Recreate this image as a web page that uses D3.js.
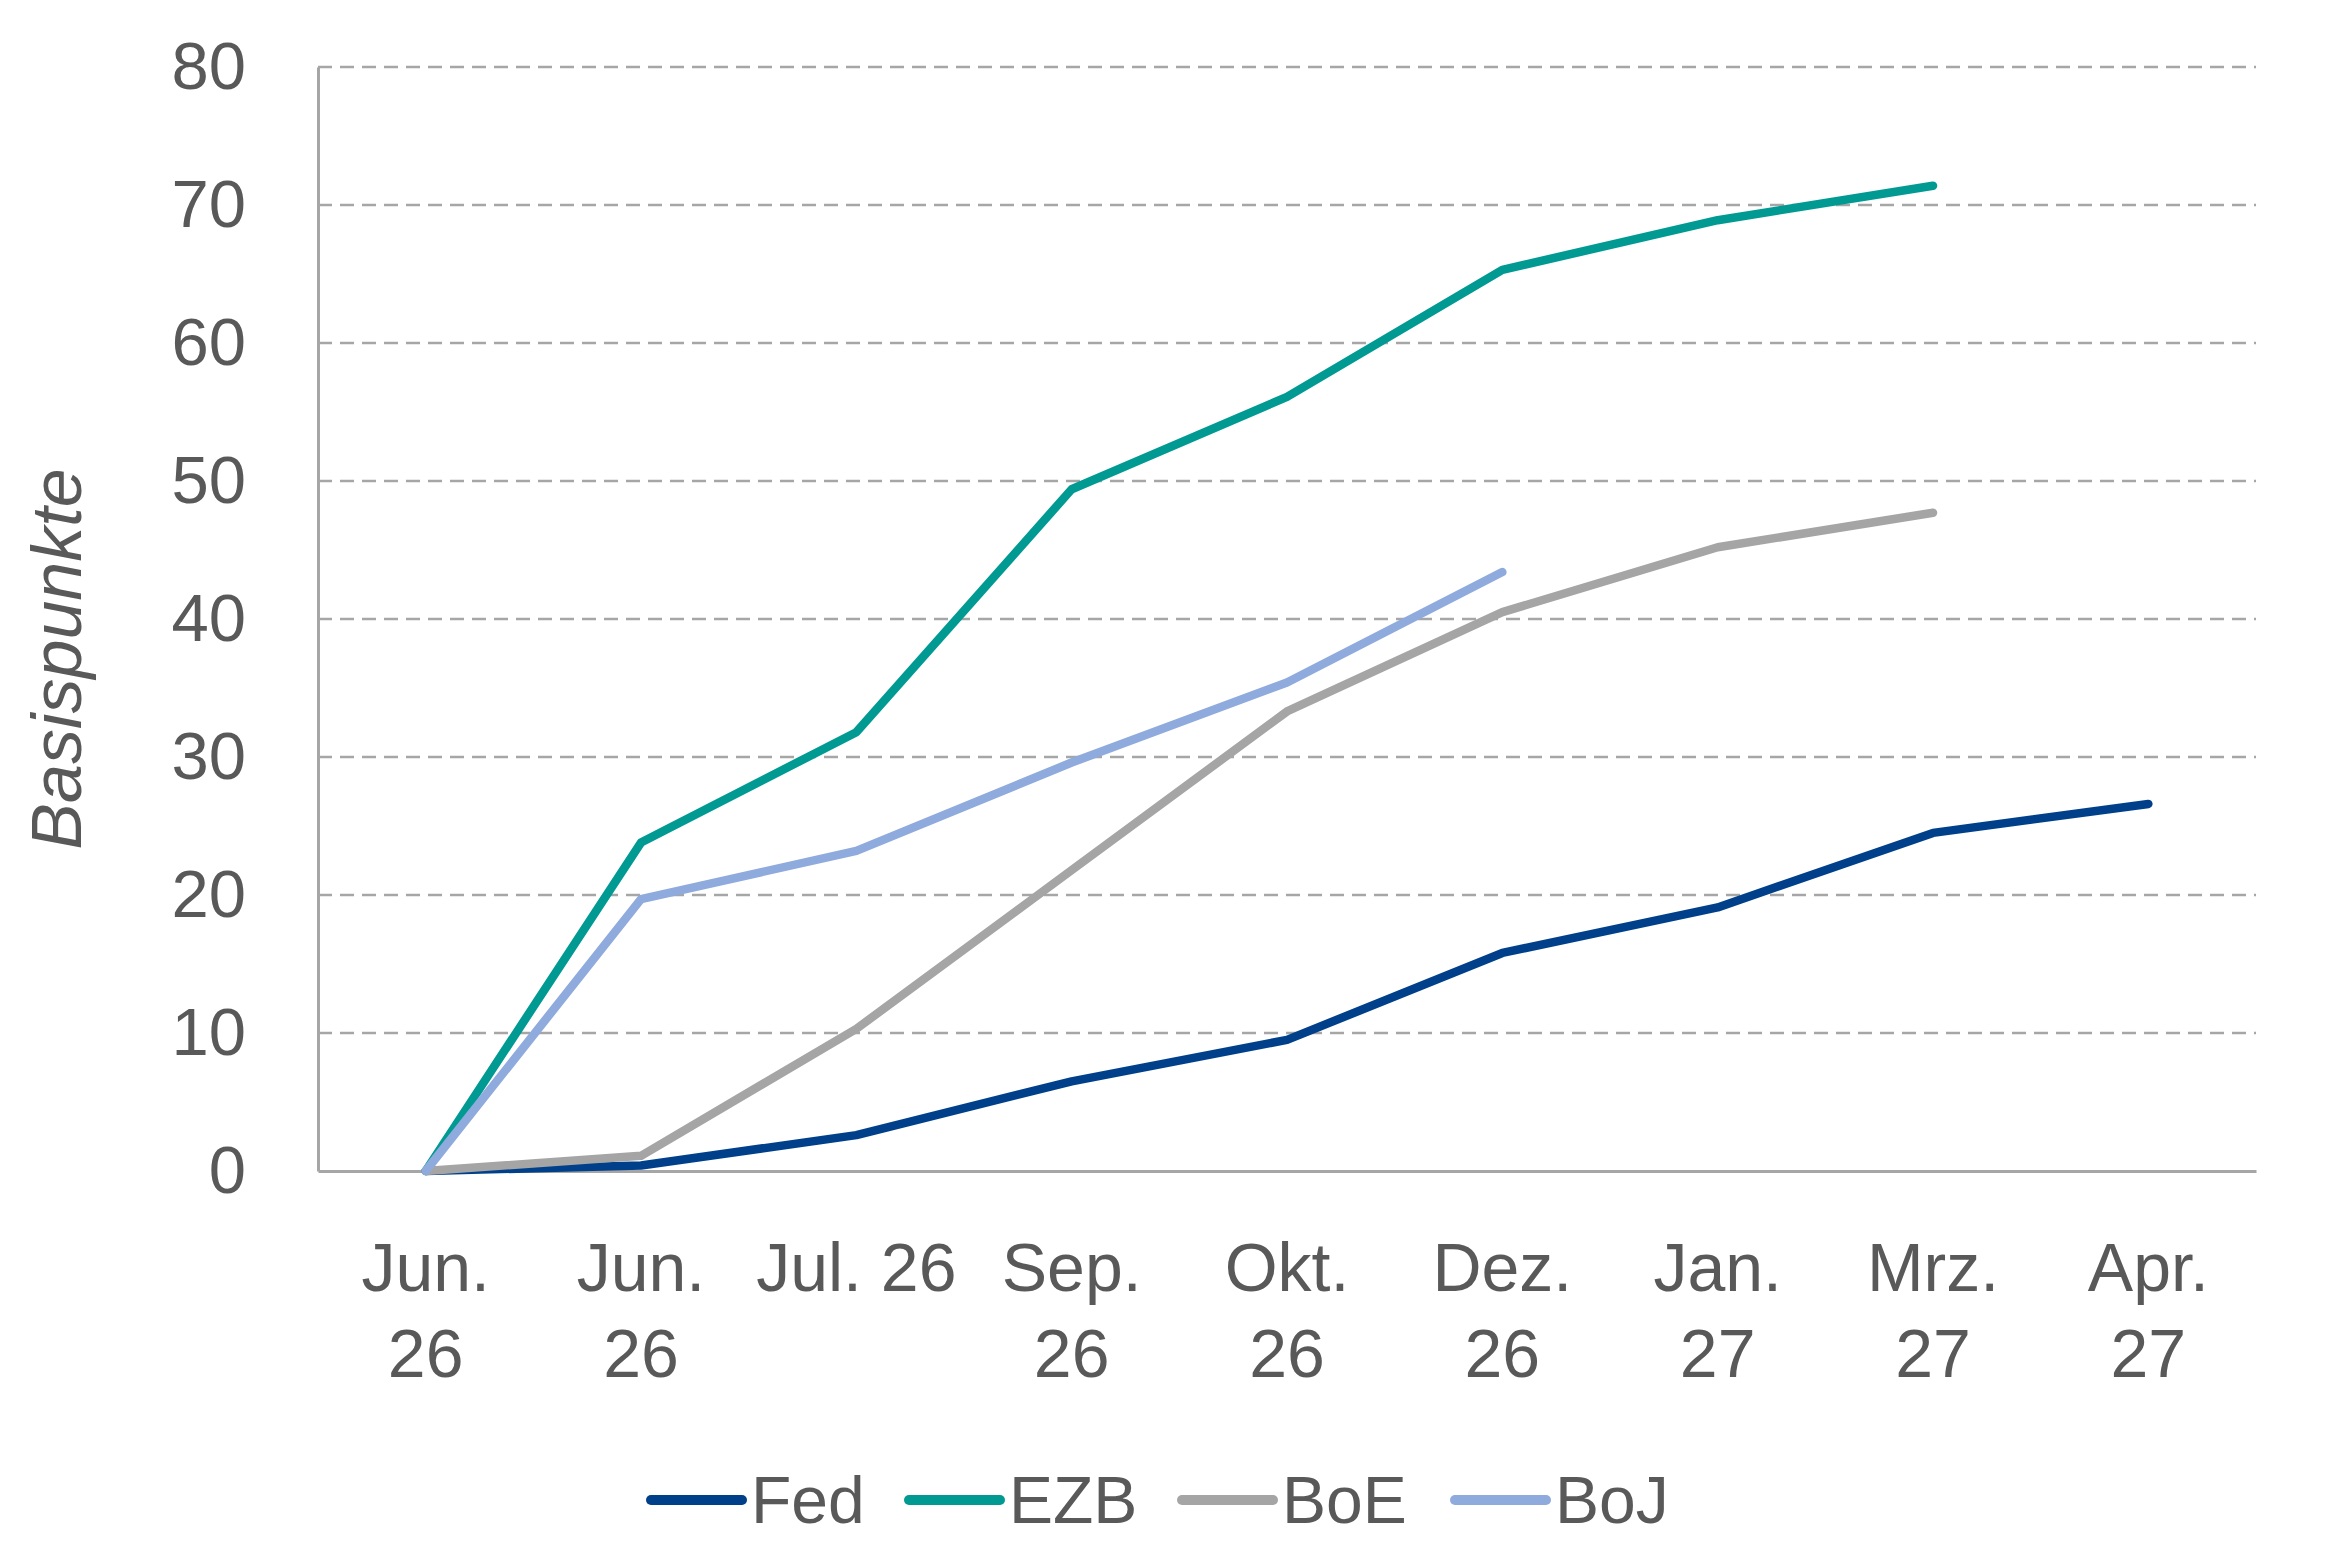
<!DOCTYPE html>
<html lang="de">
<head>
  <meta charset="utf-8">
  <title>Basispunkte</title>
  <script src="https://cdn.jsdelivr.net/npm/d3@7"></script>
  <style>
    html, body { margin: 0; padding: 0; background: #fff; }
    text { font-family: "Liberation Sans", Arial, sans-serif; fill: #595959; }
  </style>
</head>
<body>
  <script>
    let width = 2340, height = 1560;
    let margins = { left: 318, top: 67, right: 84, bottom: 389 };
    let plotW = width - margins.left - margins.right;
    let plotH = height - margins.top - margins.bottom;

    // x categories ("\n" marks the line break of the tick label)
    let categories = ["Jun.\n26", "Jun.\n26 ", "Jul. 26", "Sep.\n26", "Okt.\n26",
                      "Dez.\n26", "Jan.\n27", "Mrz.\n27", "Apr.\n27"];
    let yTicks = [0, 10, 20, 30, 40, 50, 60, 70, 80];

    // series values (null = no value)
    let fed = [0, 0.4, 2.6, 6.5, 9.5, 15.8, 19.1, 24.5, 26.6];
    let ezb = [0, 23.8, 31.8, 49.4, 56.1, 65.3, 68.9, 71.4, null];
    let boe = [0, 1.1, 10.3, 21.8, 33.3, 40.5, 45.2, 47.7, null];
    let boj = [0, 19.7, 23.2, 29.6, 35.4, 43.4, null, null, null];

    let seriesNames = ["Fed", "EZB", "BoE", "BoJ"];
    let seriesColors = ["#00408a", "#009a93", "#a5a5a5", "#8faadc"];
    let seriesData = [fed, ezb, boe, boj];

    let svg = d3.select("body").append("svg")
      .attr("width", width)
      .attr("height", height);

    let xScale = d3.scaleBand().domain(categories).range([0, plotW]);
    let yScale = d3.scaleLinear().domain([0, 80]).range([plotH, 0]);

    let container = svg.append("g")
      .attr("transform", `translate(${margins.left}, ${margins.top})`);

    // dashed gridlines
    container.selectAll(".grid").data(yTicks.filter(d => d > 0)).join("line")
      .attr("x1", 0).attr("x2", plotW)
      .attr("y1", d => yScale(d)).attr("y2", d => yScale(d))
      .attr("stroke", "#a6a6a6")
      .attr("stroke-width", 2.5)
      .attr("stroke-dasharray", "14 8");

    // y axis
    let yAxis = d3.axisLeft(yScale).tickValues(yTicks).tickSize(0).tickPadding(72);
    let yAxisG = container.append("g").call(yAxis);
    yAxisG.select(".domain").attr("stroke", "#a6a6a6").attr("stroke-width", 3);
    yAxisG.selectAll("text").attr("font-size", 67).attr("fill", "#595959")
      .attr("font-family", "Liberation Sans, Arial, sans-serif");

    // x axis
    let xAxis = d3.axisBottom(xScale).tickSize(0).tickFormat("");
    let xAxisG = container.append("g")
      .attr("transform", `translate(0, ${plotH})`)
      .call(xAxis);
    xAxisG.select(".domain").attr("stroke", "#a6a6a6").attr("stroke-width", 3);

    // x tick labels, wrapped over two lines
    let xLabels = container.append("g")
      .attr("transform", `translate(0, ${plotH})`);
    categories.forEach(c => {
      let t = xLabels.append("text")
        .attr("x", xScale(c) + xScale.bandwidth() / 2)
        .attr("y", 120)
        .attr("text-anchor", "middle")
        .attr("font-size", 68);
      c.trim().split("\n").forEach((line, i) => {
        t.append("tspan")
          .attr("x", xScale(c) + xScale.bandwidth() / 2)
          .attr("dy", i === 0 ? 0 : 86)
          .text(line);
      });
    });

    // the lines
    let line = d3.line()
      .defined(d => d.v !== null)
      .x(d => xScale(d.c) + xScale.bandwidth() / 2)
      .y(d => yScale(d.v));
    seriesData.forEach((values, i) => {
      container.append("path")
        .datum(values.map((v, j) => ({ c: categories[j], v: v })))
        .attr("d", line)
        .attr("fill", "none")
        .attr("stroke", seriesColors[i])
        .attr("stroke-width", 8.5)
        .attr("stroke-linejoin", "round")
        .attr("stroke-linecap", "round");
    });

    // y label
    svg.append("g")
      .attr("transform", `translate(63, ${margins.top + plotH / 2 + 40})`)
      .append("text").text("Basispunkte")
      .attr("text-anchor", "middle")
      .attr("dominant-baseline", "middle")
      .attr("font-size", 70)
      .attr("font-style", "italic")
      .attr("transform", "rotate(-90)");

    // legend
    let legendX = [651, 909, 1182, 1455];
    let legend = svg.append("g").attr("transform", `translate(0, 1500)`);
    seriesNames.forEach((name, i) => {
      let g = legend.append("g").attr("transform", `translate(${legendX[i]}, 0)`);
      g.append("line")
        .attr("x1", 0).attr("x2", 91).attr("y1", 0).attr("y2", 0)
        .attr("stroke", seriesColors[i])
        .attr("stroke-width", 10)
        .attr("stroke-linecap", "round");
      g.append("text").text(name)
        .attr("x", 100)
        .attr("y", 0)
        .attr("dy", "0.35em")
        .attr("font-size", 66);
    });
  </script>
</body>
</html>
